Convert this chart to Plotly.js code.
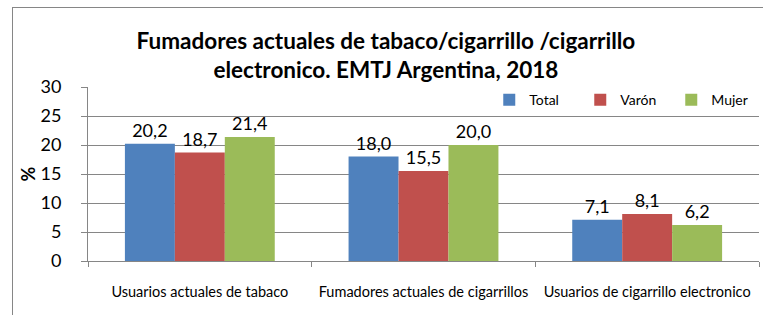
<!DOCTYPE html>
<html>
<head>
<meta charset="utf-8">
<script src="https://cdn.plot.ly/plotly-3.0.1.min.js"></script>
<style>
  html, body { margin: 0; padding: 0; background: #fff; }
  #wrap { position: relative; width: 763px; height: 315px; }
  #chart { width: 763px; height: 315px; }
  #frame { position: absolute; left: 12px; top: 7px; width: 780px; height: 330px;
           border: 1px solid #868686; pointer-events: none; box-sizing: border-box; }
</style>
</head>
<body>
<div id="wrap">
  <div id="chart"></div>
  <div id="frame"></div>
</div>
<script>
const categories = ["Usuarios actuales de tabaco", "Fumadores actuales de cigarrillos", "Usuarios de cigarrillo electronico"];
const seriesNames = ["Total", "Varón", "Mujer"];
const total = [20.2, 18.0, 7.1];
const varon = [18.7, 15.5, 8.1];
const mujer = [21.4, 20.0, 6.2];
const colors = ["#4F81BD", "#C0504D", "#9BBB59"];
const yTicks = [0, 5, 10, 15, 20, 25, 30];

const fontFam = "Lato, 'Open Sans', sans-serif";
const fmt = v => v.toFixed(1).replace(".", ",");

const traces = [total, varon, mujer].map((vals, i) => ({
  type: "bar",
  name: seriesNames[i],
  x: categories,
  y: vals,
  marker: { color: colors[i] },
  text: vals.map(fmt),
  textposition: "outside",
  cliponaxis: false,
  textfont: { family: fontFam, size: 18, color: "#000" },
  hoverinfo: "none"
}));

const layout = {
  width: 763, height: 315,
  margin: { l: 88, r: 4, t: 87, b: 54, autoexpand: false },
  paper_bgcolor: "rgba(0,0,0,0)",
  plot_bgcolor: "rgba(0,0,0,0)",
  barmode: "group",
  bargap: 0.33,
  bargroupgap: 0,
  font: { family: fontFam, color: "#000" },
  title: {
    text: "<b>Fumadores actuales de tabaco/cigarrillo /cigarrillo<br>electronico. EMTJ Argentina, 2018</b>",
    font: { family: fontFam, size: 22.5, color: "#000" },
    x: 0.444, xanchor: "center", xref: "paper",
    y: 0.845, yanchor: "middle", yref: "container"
  },
  xaxis: {
    type: "category",
    tickson: "boundaries",
    ticks: "outside", ticklen: 5, tickcolor: "#868686",
    showline: true, linecolor: "#868686", linewidth: 1,
    showgrid: false,
    tickangle: 0,
    automargin: false,
    tickfont: { family: fontFam, size: 14.5, color: "#000" },
    ticklabelstandoff: 18
  },
  yaxis: {
    range: [0, 30],
    tickvals: yTicks,
    ticktext: yTicks.map(String),
    ticks: "outside", ticklen: 6, tickcolor: "#868686",
    showline: true, linecolor: "#868686", linewidth: 1,
    showgrid: true, gridcolor: "#868686", gridwidth: 1,
    zeroline: false,
    automargin: false,
    tickfont: { family: fontFam, size: 18, color: "#000" },
    ticklabelstandoff: 16,
    title: { text: "<b>%</b>", font: { family: fontFam, size: 18, color: "#000" }, standoff: 0 }
  },
  showlegend: true,
  legend: {
    orientation: "h",
    x: 0.598, xanchor: "left",
    y: 0.925, yanchor: "middle",
    bgcolor: "rgba(0,0,0,0)",
    font: { family: fontFam, size: 14, color: "#000" },
    entrywidth: 46, entrywidthmode: "pixels",
    itemwidth: 30,
    traceorder: "normal"
  }
};

Plotly.newPlot("chart", traces, layout, { displayModeBar: false, staticPlot: true });
</script>
</body>
</html>
